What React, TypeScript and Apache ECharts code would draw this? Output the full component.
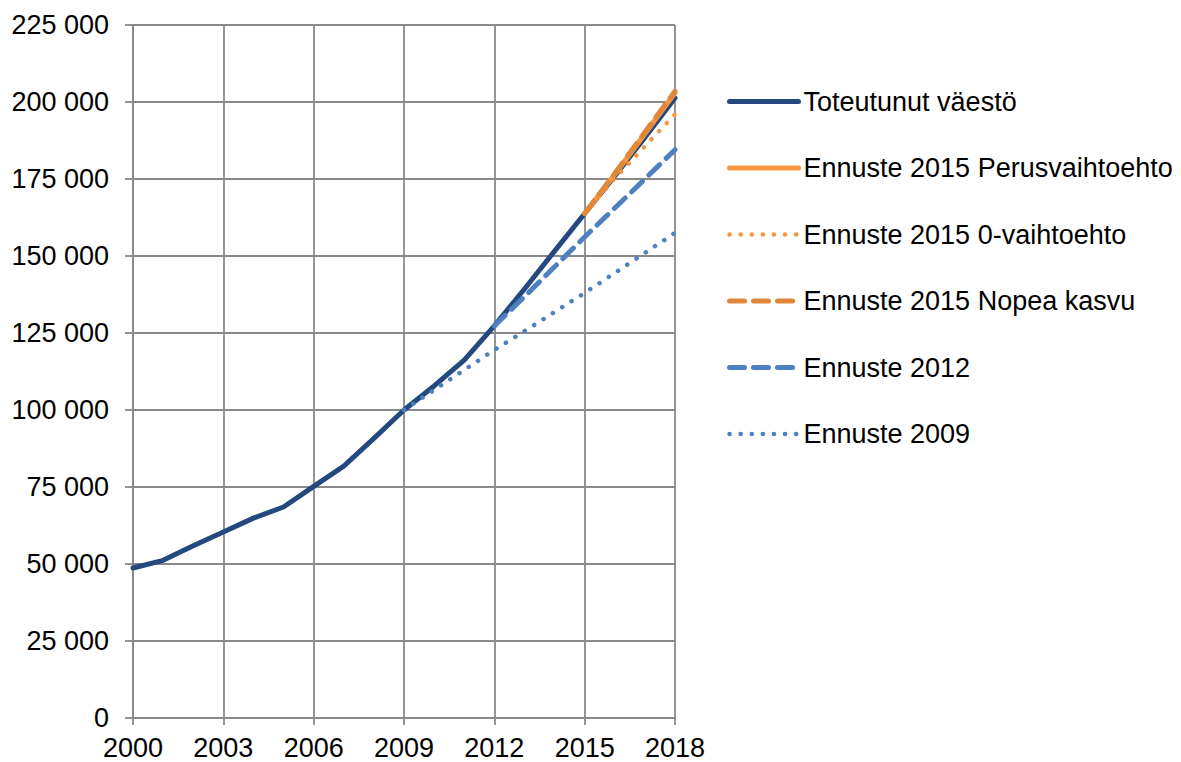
import React, { useEffect, useRef } from "react";
import * as echarts from "echarts";

const years = ["2000","2001","2002","2003","2004","2005","2006","2007","2008","2009","2010","2011","2012","2013","2014","2015","2016","2017","2018"];

const toteutunut = [48700, 51200, 55900, 60400, 64900, 68500, 75200, 81800, 90800, 100000, 107800, 116200, 127300, 139300, 151600, 163800, 176000, 188500, 201300];
const perus2015 = [null, null, null, null, null, null, null, null, null, null, null, null, null, null, null, 163800, 176500, 189700, 203000];
const nolla2015 = [null, null, null, null, null, null, null, null, null, null, null, null, null, null, null, 163800, 175200, 185600, 196000];
const nopea2015 = [null, null, null, null, null, null, null, null, null, null, null, null, null, null, null, 163800, 176800, 190200, 203500];
const ennuste2012 = [null, null, null, null, null, null, null, null, null, null, null, null, 127300, 136800, 146500, 156200, 165600, 175000, 184500];
const ennuste2009 = [null, null, null, null, null, null, null, null, null, 100000, 106500, 113000, 119500, 125600, 131800, 138000, 144500, 151000, 157500];

const names = [
  "Toteutunut väestö",
  "Ennuste 2015 Perusvaihtoehto",
  "Ennuste 2015 0-vaihtoehto",
  "Ennuste 2015 Nopea kasvu",
  "Ennuste 2012",
  "Ennuste 2009",
];

const fmt = (v: number) => String(v).replace(/\B(?=(\d{3})+(?!\d))/g, " ");

export default function App() {
  const ref = useRef<HTMLDivElement>(null);
  useEffect(() => {
    if (!ref.current) return;
    const chart = echarts.init(ref.current, undefined, { renderer: "svg" });
    const font = "'Liberation Sans', Arial, sans-serif";
    const dot = [0.1, 11];
    const dash = [15, 9];
    const styles: any[] = [
      { color: "#23497f", type: "solid", width: 5 },
      { color: "#f7963f", type: "solid", width: 5 },
      { color: "#f7963f", type: dot, width: 4.5 },
      { color: "#e0883a", type: dash, width: 5 },
      { color: "#4f81c0", type: dash, width: 5 },
      { color: "#4f81c0", type: dot, width: 4.5 },
    ];
    const datas = [toteutunut, perus2015, nolla2015, nopea2015, ennuste2012, ennuste2009];
    const series = names.map((name, i) => ({
      name,
      type: "line",
      data: datas[i],
      symbol: "none",
      showSymbol: false,
      connectNulls: false,
      lineStyle: { ...styles[i], cap: "round", join: "round" },
      itemStyle: { color: styles[i].color },
    }));
    chart.setOption({
      animation: false,
      backgroundColor: "#ffffff",
      textStyle: { fontFamily: font },
      grid: { left: 133, right: 506, top: 25, bottom: 44, containLabel: false },
      legend: {
        orient: "vertical",
        left: 727,
        top: 88,
        padding: 0,
        itemWidth: 69,
        itemHeight: 27,
        itemGap: 39.5,
        selectedMode: false,
        textStyle: { fontSize: 27, color: "#000", fontFamily: font },
        itemStyle: { opacity: 0, borderWidth: 0 },
        data: names.map((name, i) => ({
          name,
          itemStyle: { opacity: 0, borderWidth: 0 },
          lineStyle: { ...styles[i], cap: "round" },
        })),
      },
      xAxis: {
        type: "category",
        data: years,
        boundaryGap: false,
        axisLine: { lineStyle: { color: "#898989", width: 1.8 } },
        axisTick: { show: true, interval: 2, length: 7, lineStyle: { color: "#898989", width: 1.8 } },
        splitLine: { show: true, interval: 2, lineStyle: { color: "#898989", width: 1.8 } },
        axisLabel: { interval: 2, fontSize: 27, color: "#000", margin: 16, fontFamily: font },
      },
      yAxis: {
        type: "value",
        min: 0,
        max: 225000,
        interval: 25000,
        axisLine: { show: true, lineStyle: { color: "#898989", width: 1.8 } },
        axisTick: { show: true, length: 8, lineStyle: { color: "#898989", width: 1.8 } },
        splitLine: { show: true, lineStyle: { color: "#898989", width: 1.8 } },
        axisLabel: { fontSize: 27, color: "#000", margin: 24, formatter: fmt, fontFamily: font },
      },
      series,
    });
    return () => chart.dispose();
  }, []);
  return <div ref={ref} style={{ position: "absolute", left: 0, top: 0, width: 1181, height: 762 }} />;
}
